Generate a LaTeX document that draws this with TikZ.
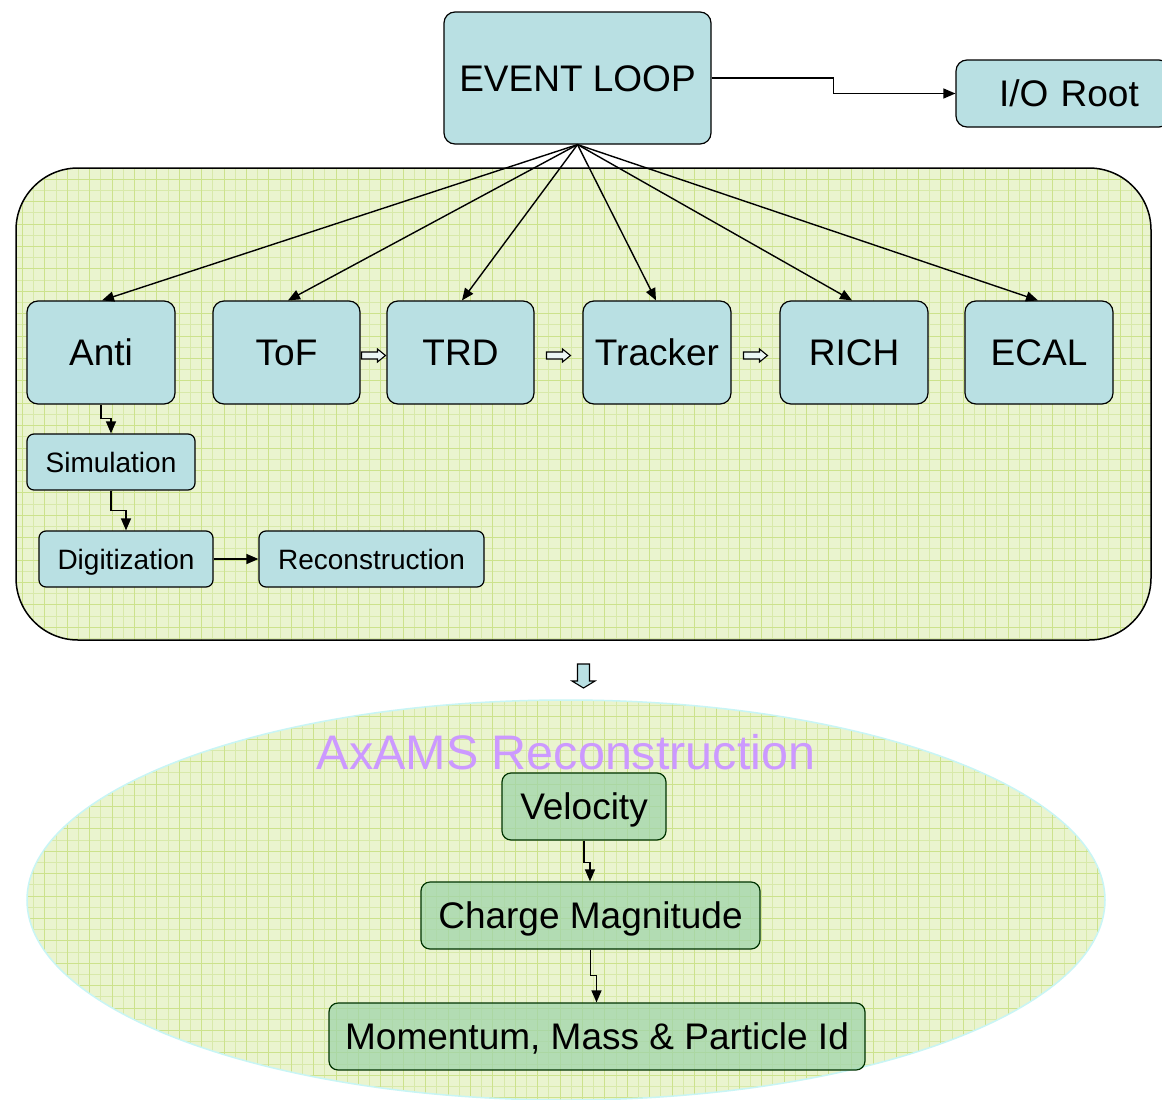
\documentclass[tikz,border=0pt]{standalone}
\usepackage{fontspec}
\setmainfont{Liberation Sans}
\usetikzlibrary{arrows.meta,calc}
\definecolor{boxblue}{RGB}{185,224,227}
\definecolor{bggreen}{RGB}{234,244,207}
\definecolor{gridgreen}{RGB}{216,233,170}
\definecolor{gridgreenB}{RGB}{204,226,140}
\definecolor{boxgreen}{RGB}{160,212,170}
\definecolor{ellborder}{RGB}{200,245,245}
\definecolor{lavender}{RGB}{204,153,255}
\definecolor{hollowfill}{RGB}{236,246,244}
\tikzset{
  x=1pt, y=-1pt,
  bluebox/.style={draw=black, line width=1.2pt, fill=boxblue, rounded corners=11pt, inner sep=0pt,
    font=\fontsize{37}{40}\selectfont, text height=26.5pt, text depth=0pt},
  smallbox/.style={draw=black, line width=1.2pt, fill=boxblue, rounded corners=7pt, inner sep=0pt,
    font=\fontsize{28}{32}\selectfont, text height=20pt, text depth=0pt},
  greenbox/.style={draw=black!80!green, line width=1.2pt, fill=boxgreen, fill opacity=0.75, text opacity=1,
    rounded corners=9pt, inner sep=0pt, font=\fontsize{37}{40}\selectfont, text height=26.5pt, text depth=0pt},
  conn/.style={draw=black, line width=1.4pt, -{Triangle[length=12pt,width=10pt]}},
  hollowarrow/.style={draw=black, line width=1.1pt, fill=hollowfill, line join=miter},
}
\begin{document}
\begin{tikzpicture}
\useasboundingbox (0,0) rectangle (1162,1100);
\fill[white] (0,0) rectangle (1162,1100);

% big rounded panel
\begin{scope}
  \clip[rounded corners=62pt] (16,168) rectangle (1151,640);
  \fill[bggreen] (16,168) rectangle (1151,640);
  \draw[gridgreen, line width=0.7pt, step=11.2pt] (0,160) grid (1170,650);
  \draw[gridgreenB, line width=0.7pt, step=22.4pt] (0,160) grid (1170,650);
\end{scope}
\draw[black, line width=1.5pt, rounded corners=62pt] (16,168) rectangle (1151,640);

% ellipse
\begin{scope}
  \clip (566,900) ellipse [x radius=539, y radius=200];
  \fill[bggreen] (20,690) rectangle (1120,1110);
  \draw[gridgreen, line width=0.7pt, step=11.2pt] (0,690) grid (1170,1110);
  \draw[gridgreenB, line width=0.7pt, step=22.4pt] (0,690) grid (1170,1110);
\end{scope}
\draw[ellborder, line width=1.5pt] (566,900) ellipse [x radius=539, y radius=200];

% top nodes
\node[bluebox, minimum width=267pt, minimum height=132pt] (el) at (577.5,78) {EVENT LOOP};
\node[bluebox, minimum width=214pt, minimum height=67pt, text width=214pt, align=left] (io) at (1063,93.5) {\hspace{43pt}I/O Root};

% detector row
\node[bluebox, minimum width=148pt, minimum height=103pt] (anti) at (101,352.5) {Anti};
\node[bluebox, minimum width=147pt, minimum height=103pt] (tof) at (286.5,352.5) {ToF};
\node[bluebox, minimum width=147pt, minimum height=103pt] (trd) at (460.5,352.5) {TRD};
\node[bluebox, minimum width=148pt, minimum height=103pt] (trk) at (657,352.5) {Tracker};
\node[bluebox, minimum width=148pt, minimum height=103pt] (rich) at (854,352.5) {RICH};
\node[bluebox, minimum width=148pt, minimum height=103pt] (ecal) at (1039,352.5) {ECAL};

% sub chain
\node[smallbox, minimum width=168pt, minimum height=56pt] (sim) at (111,462) {Simulation};
\node[smallbox, minimum width=174pt, minimum height=56pt] (dig) at (126,559) {Digitization};
\node[smallbox, minimum width=225pt, minimum height=56pt] (rec) at (371.5,559) {Reconstruction};

% hollow arrows between detectors
\coordinate (h1) at ($(tof.east)!0.5!(trd.west)+(0,3)$);
\coordinate (h2) at ($(trd.east)!0.5!(trk.west)+(0,3)$);
\coordinate (h3) at ($(trk.east)!0.5!(rich.west)+(0,3)$);
\foreach \h in {h1,h2,h3}
  \draw[hollowarrow] ($(\h)+(-12,-3.5)$) -- ++(16,0) -- ++(0,-3) -- ++(8,6.5) -- ++(-8,6.5)
    -- ++(0,-3) -- ++(-16,0) -- cycle;
\coordinate (down) at (583.5,676);
\draw[hollowarrow, fill=boxblue] ($(down)+(-6,-12)$) -- ++(12,0) -- ++(0,17) -- ++(5.5,0)
  -- ++(-11.5,7) -- ++(-11.5,-7) -- ++(5.5,0) -- cycle;

% reconstruction ellipse contents
\node[text=lavender, font=\fontsize{48.5}{52}\selectfont, inner sep=0pt, text height=34.7pt, text depth=0pt] (axams) at (566,752) {AxAMS Reconstruction};
\node[greenbox, minimum width=164pt, minimum height=67pt] (vel) at (584,806.5) {Velocity};
\node[greenbox, minimum width=339pt, minimum height=67pt] (chg) at (590.5,915.5) {Charge Magnitude};
\node[greenbox, minimum width=536pt, minimum height=67pt] (mom) at (597,1036.5) {Momentum, Mass \& Particle Id};

% connectors
\draw[conn] (el.east) -- ($(el.east)!0.5!(el.east -| io.west)$) |- (io.west);
\foreach \t/\dx in {anti/1, tof/1.5, trd/1.5, trk/-1, rich/-2, ecal/-1}
  \draw[conn] (el.south) -- ([xshift=\dx pt]\t.north);
\draw[conn] (anti.south) -- ++(0,14) -| (sim.north);
\draw[conn] (sim.south) -- ++(0,20) -| (dig.north);
\draw[conn] (dig.east) -- (rec.west);
\draw[conn] (vel.south) -- ++(0,22) -| ([xshift=6pt]vel.south |- chg.north);
\draw[conn] (chg.south) -- ++(0,26) -| ([xshift=6pt]chg.south |- mom.north);
\end{tikzpicture}
\end{document}
